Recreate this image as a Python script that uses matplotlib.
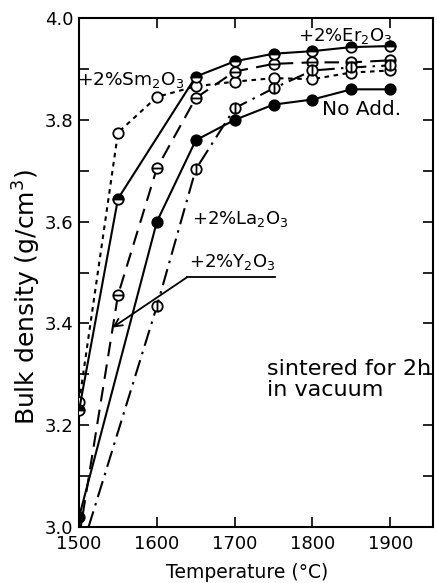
import matplotlib
matplotlib.use("Agg")
import matplotlib.pyplot as plt
from matplotlib.path import Path

# Sintering temperature (deg C) and bulk density (g/cm^3) for each additive
temps_no_add = [1500, 1600, 1650, 1700, 1750, 1800, 1850, 1900]
dens_no_add = [3.02, 3.60, 3.76, 3.80, 3.83, 3.84, 3.86, 3.86]

temps_er = [1500, 1550, 1650, 1700, 1750, 1800, 1850, 1900]
dens_er = [3.23, 3.645, 3.885, 3.915, 3.93, 3.935, 3.943, 3.945]

temps_sm = [1500, 1550, 1600, 1650, 1700, 1750, 1800, 1850, 1900]
dens_sm = [3.245, 3.775, 3.845, 3.866, 3.875, 3.882, 3.88, 3.893, 3.897]

temps_y = [1500, 1550, 1600, 1650, 1700, 1750, 1800, 1850, 1900]
dens_y = [2.98, 3.456, 3.705, 3.843, 3.895, 3.91, 3.913, 3.913, 3.917]

temps_la = [1500, 1600, 1650, 1700, 1750, 1800, 1850, 1900]
dens_la = [2.94, 3.434, 3.703, 3.823, 3.862, 3.897, 3.903, 3.907]

x_ticks = [1500, 1600, 1700, 1800, 1900]
y_ticks = [3.0, 3.2, 3.4, 3.6, 3.8, 4.0]
y_tick_labels = ["3.0", "3.2", "3.4", "3.6", "3.8", "4.0"]

plt.rcParams["font.family"] = ["DejaVu Sans"]
plt.rcParams["mathtext.fontset"] = "dejavusans"

# circle markers with a bar across them
circle = Path.unit_circle()
hbar = Path([(-1, 0), (1, 0)], [Path.MOVETO, Path.LINETO])
vbar = Path([(0, -1), (0, 1)], [Path.MOVETO, Path.LINETO])
circ_h = Path.make_compound_path(circle, hbar)
circ_v = Path.make_compound_path(circle, vbar)

fig = plt.figure(figsize=(4.37, 5.83), dpi=100)
ax = fig.add_axes([0.181, 0.096, 0.81, 0.873])

lw = 1.5
ms = 7.5
mew = 1.3
common = dict(color="black", lw=lw, ms=ms, mew=mew, mec="black")

ax.plot(temps_sm, dens_sm, ls=(0, (2.2, 2.2)), marker="o", mfc="white", zorder=3, **common)
ax.plot(temps_y, dens_y, ls=(0, (7, 4)), marker=circ_h, mfc="white", zorder=3, **common)
ax.plot(temps_la, dens_la, ls=(0, (8, 3, 1.2, 3)), marker=circ_v, mfc="white", zorder=3, **common)
ax.plot(temps_er, dens_er, ls="-", marker="o", fillstyle="top", mfc="black",
        markerfacecoloralt="white", zorder=4, **common)
ax.plot(temps_no_add, dens_no_add, ls="-", marker="o", mfc="black", zorder=5, **common)

ax.set_xlim(1500, 1955)
ax.set_ylim(3.0, 4.0)
ax.set_xticks(x_ticks)
ax.set_xticklabels([str(t) for t in x_ticks])
ax.set_yticks(y_ticks)
ax.set_yticklabels(y_tick_labels)
ax.set_yticks([3.1, 3.3, 3.5, 3.7, 3.9], minor=True)

ax.tick_params(which="both", direction="in", top=True, right=True,
               width=1.2, labelsize=13)
ax.tick_params(which="major", length=7)
ax.tick_params(which="minor", length=7)
ax.tick_params(axis="x", pad=6)
ax.tick_params(axis="y", pad=4)
for s in ax.spines.values():
    s.set_linewidth(1.5)

tkw = dict(fontsize=13, color="black")
ax.text(1781, 3.965, "+2%Er$_2$O$_3$", va="center", ha="left", **tkw)
ax.text(1497, 3.878, "+2%Sm$_2$O$_3$", va="center", ha="left", zorder=6,
        fontsize=13.3, color="black")
ax.text(1645, 3.605, "+2%La$_2$O$_3$", va="center", ha="left", **tkw)
ax.text(1641, 3.52, "+2%Y$_2$O$_3$", va="center", ha="left", **tkw)
ax.text(1812, 3.82, "No Add.", va="center", ha="left", fontsize=14.5, color="black")
ax.text(1742, 3.29, "sintered for 2h\nin vacuum", va="center", ha="left",
        linespacing=1.05, fontsize=16, color="black")

# leader from the Y2O3 label to its curve
ax.plot([1752, 1639], [3.491, 3.491], color="black", lw=1.3)
ax.annotate("", xy=(1543, 3.392), xytext=(1639, 3.491),
            arrowprops=dict(arrowstyle="->", color="black", lw=1.3,
                            shrinkA=0, shrinkB=0, mutation_scale=14))

fig.text(247 / 437, 1 - 572 / 583, "Temperature (\u00b0C)", ha="center", va="center",
         fontsize=13.5)
fig.text(27 / 437, 1 - 297 / 583, "Bulk density (g/cm$^3$)", ha="center", va="center",
         rotation=90, fontsize=18)

fig.savefig("out.png", dpi=100)
